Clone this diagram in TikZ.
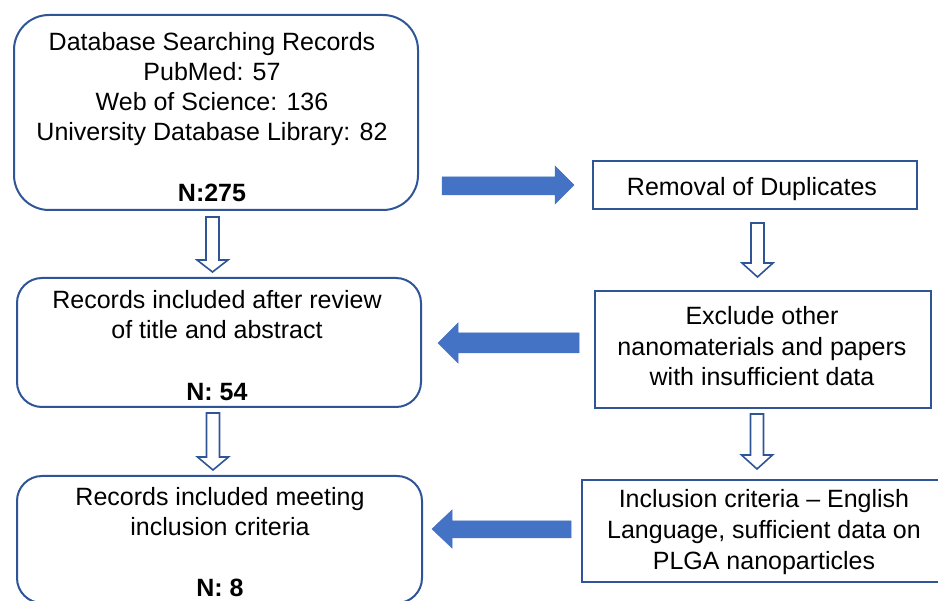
\documentclass[tikz,border=0pt]{standalone}
\usepackage{fontspec}
\setmainfont{Liberation Sans}
\definecolor{boxblue}{RGB}{47,85,151}
\definecolor{arrowblue}{RGB}{68,114,196}
\tikzset{
  box/.style={draw=boxblue, line width=2pt, fill=white, inner sep=0pt},
  txt/.style={anchor=base, inner sep=0pt, font=\fontsize{25}{30}\selectfont},
  btxt/.style={txt, font=\fontsize{25}{30}\selectfont\bfseries},
  hollow/.style={draw=boxblue, line width=1.6pt, fill=white, line join=miter},
  solidarrow/.style={fill=arrowblue, draw=arrowblue, line width=0.5pt}
}
\newcommand\hollowdown[4]{%
  \draw[hollow] (#1-6.5,#2) -- (#1+6.5,#2) -- (#1+6.5,#3) -- (#1+15.5,#3) -- (#1,#4)
    -- (#1-15.5,#3) -- (#1-6.5,#3) -- cycle;}
\begin{document}
\begin{tikzpicture}[x=1pt,y=-1pt]
\useasboundingbox (0,0) rectangle (938,601);
\clip (0,0) rectangle (938,601);
% boxes
\node[box, rounded corners=35pt, minimum width=404pt, minimum height=195pt] (b1) at (216,112.5) {};
\node[box, rounded corners=25pt, minimum width=404pt, minimum height=129pt] (b2) at (219,342.5) {};
\node[box, rounded corners=25pt, minimum width=405pt, minimum height=127pt] (b3) at (219.5,539.5) {};
\node[box, minimum width=324pt, minimum height=48pt] (r1) at (755,185) {};
\node[box, minimum width=336pt, minimum height=117pt] (r2) at (763,349.5) {};
\node[box, minimum width=358pt, minimum height=102pt] (r3) at (761,531) {};
% texts
\node[txt] (t1a) at (212,51) {Database Searching Records};
\node[txt] (t1b) at (212,81) {PubMed: 57};
\node[txt] (t1c) at (212,111) {Web of Science: 136};
\node[txt] (t1d) at (212,141) {University Database Library: 82};
\node[btxt] (t1e) at (212,202) {N:275};
\node[txt] (t2a) at (217,309) {Records included after review};
\node[txt] (t2b) at (217,339) {of title and abstract};
\node[btxt] (t2c) at (217,401) {N: 54};
\node[txt] (t3a) at (220,506) {Records included meeting};
\node[txt] (t3b) at (220,536) {inclusion criteria};
\node[btxt] (t3c) at (220,597) {N: 8};
\node[txt] (u1) at (752,196) {Removal of Duplicates};
\node[txt] (u2a) at (762,325) {Exclude other};
\node[txt] (u2b) at (762,356) {nanomaterials and papers};
\node[txt] (u2c) at (762,386) {with insufficient data};
\node[txt] (u3a) at (764,508) {Inclusion criteria – English};
\node[txt] (u3b) at (764,539) {Language, sufficient data on};
\node[txt] (u3c) at (764,569) {PLGA nanoparticles};
% hollow down arrows
\hollowdown{212.5}{217}{260}{272}
\hollowdown{213}{413}{457}{470}
\hollowdown{757.5}{223}{263}{277}
\hollowdown{757}{414}{455}{469}
% solid block arrows
\draw[solidarrow] (442,177) -- (555,177) -- (555,166) -- (574,185) -- (555,204) -- (555,195) -- (442,195) -- cycle;
\draw[solidarrow] (579,333) -- (458,333) -- (458,323) -- (438,343) -- (458,363) -- (458,353) -- (579,353) -- cycle;
\draw[solidarrow] (571,521) -- (452,521) -- (452,510) -- (432,529) -- (452,548) -- (452,538) -- (571,538) -- cycle;
\end{tikzpicture}
\end{document}
